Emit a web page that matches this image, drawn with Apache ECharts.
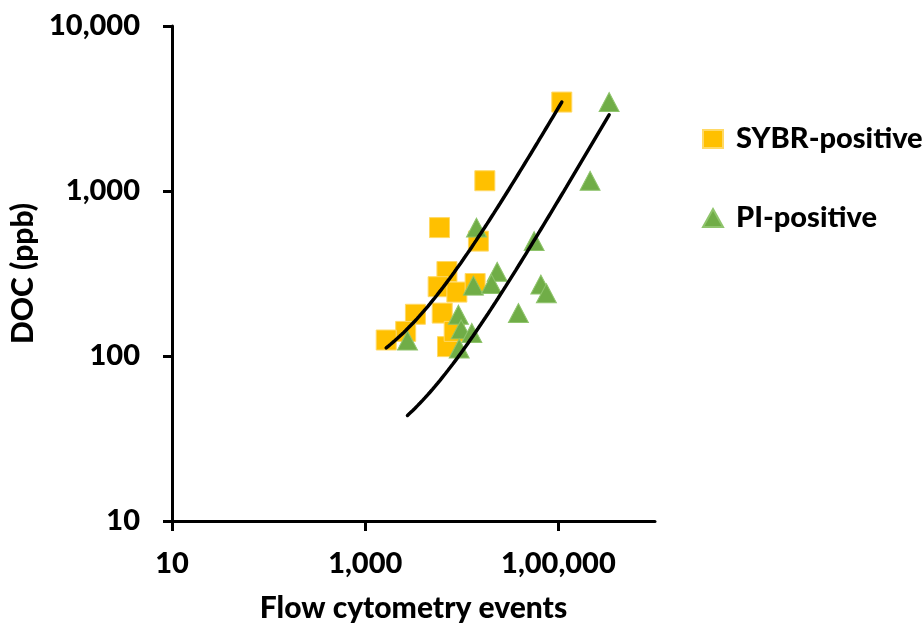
<!DOCTYPE html>
<html>
<head>
<meta charset="utf-8">
<script src="https://cdn.jsdelivr.net/npm/echarts@6/dist/echarts.min.js"></script>
<style>
html,body{margin:0;padding:0;background:#fff;}
#chart{width:924px;height:628px;}
</style>
</head>
<body>
<div id="chart"></div>
<script>
// ---- data ----
const sybrEvents = [108400, 17320, 5875, 14860, 7015, 5690, 8890, 13740, 3310, 6270, 2625, 1650, 7110, 8340];
const sybrDOC    = [3459, 1154, 600, 497, 325, 263, 244, 275, 179, 182, 141, 125, 114, 141];
const piEvents   = [335000, 212800, 14190, 56100, 23230, 13190, 20280, 65800, 75100, 38550, 9225, 9840, 12700, 2740, 9400];
const piDOC      = [3459, 1154, 600, 497, 324, 267, 273, 271, 240, 182, 178, 145, 138, 124, 111];
// linear trendlines (DOC = slope * events + intercept)
const sybrTrend = [0.03135, 60.4];
const piTrend   = [0.008588, 20.1];
const seriesNames = ['SYBR-positive', 'PI-positive'];
const xTickValues = [10, 1000, 100000];
const xTickLabels = ['10', '1,000', '1,00,000'];
const yTickValues = [10, 100, 1000, 10000];
const yTickLabels = ['10', '100', '1,000', '10,000'];

function pairs(xs, ys) { return xs.map((x, i) => [x, ys[i]]); }
function trendPoints(xs, coef) {
  const lo = Math.log10(Math.min.apply(null, xs));
  const hi = Math.log10(Math.max.apply(null, xs));
  const pts = [];
  const n = 80;
  for (let i = 0; i <= n; i++) {
    const x = Math.pow(10, lo + (hi - lo) * i / n);
    pts.push([x, coef[0] * x + coef[1]]);
  }
  return pts;
}
function labelFor(values, labels) {
  return function (v) {
    for (let i = 0; i < values.length; i++) {
      if (Math.abs(Math.log10(v) - Math.log10(values[i])) < 1e-6) return labels[i];
    }
    return '';
  };
}

const FONT = 'Lato';
const W = 900;
const chart = echarts.init(document.getElementById('chart'));
chart.setOption({
  animation: false,
  backgroundColor: '#ffffff',
  textStyle: { fontFamily: FONT },
  grid: { left: 172, right: 269, top: 26, bottom: 106, containLabel: false },
  legend: {
    data: seriesNames,
    orient: 'vertical',
    left: 697,
    top: 118,
    itemWidth: 20,
    itemHeight: 18,
    itemGap: 47,
    textStyle: { fontFamily: FONT, fontWeight: W, fontSize: 29, color: '#000', lineHeight: 32, padding: [0, 0, 0, 8] }
  },
  xAxis: {
    type: 'log',
    logBase: 10,
    min: 10,
    max: 1000000,
    name: 'Flow cytometry events',
    nameLocation: 'middle',
    nameGap: 72,
    nameTextStyle: { fontFamily: FONT, fontWeight: W, fontSize: 30, color: '#000' },
    axisLine: { show: true, onZero: false, lineStyle: { color: '#000', width: 3 } },
    axisTick: { show: true, inside: false, length: 10, lineStyle: { color: '#000', width: 3 }, customValues: xTickValues },
    axisLabel: { margin: 28, fontFamily: FONT, fontWeight: W, fontSize: 29, color: '#000', customValues: xTickValues,
                 formatter: labelFor(xTickValues, xTickLabels) },
    splitLine: { show: false },
    minorTick: { show: false }
  },
  yAxis: {
    type: 'log',
    logBase: 10,
    min: 10,
    max: 10000,
    name: 'DOC (ppb)',
    nameLocation: 'middle',
    nameGap: 127,
    nameTextStyle: { fontFamily: FONT, fontWeight: W, fontSize: 30, color: '#000' },
    axisLine: { show: true, onZero: false, lineStyle: { color: '#000', width: 3 } },
    axisTick: { show: true, inside: false, length: 9, lineStyle: { color: '#000', width: 3 } },
    axisLabel: { margin: 32, fontFamily: FONT, fontWeight: W, fontSize: 29, color: '#000',
                 formatter: labelFor(yTickValues, yTickLabels) },
    splitLine: { show: false }
  },
  series: [
    {
      name: seriesNames[0],
      type: 'scatter',
      symbol: 'rect',
      symbolSize: 20,
      z: 2,
      itemStyle: { color: '#FFC000', borderColor: '#FFD966', borderWidth: 1, opacity: 1 },
      data: pairs(sybrEvents, sybrDOC)
    },
    {
      name: seriesNames[1],
      type: 'scatter',
      symbol: 'triangle',
      symbolSize: [20, 19],
      z: 3,
      itemStyle: { color: '#70AD47', borderColor: '#8FC46C', borderWidth: 1, opacity: 1 },
      data: pairs(piEvents, piDOC)
    },
    {
      name: 'SYBR trend',
      type: 'line',
      showSymbol: false,
      symbol: 'none',
      z: 4,
      lineStyle: { color: '#000', width: 3.5, cap: 'round' },
      data: trendPoints(sybrEvents, sybrTrend)
    },
    {
      name: 'PI trend',
      type: 'line',
      showSymbol: false,
      symbol: 'none',
      z: 4,
      lineStyle: { color: '#000', width: 3.5, cap: 'round' },
      data: trendPoints(piEvents, piTrend)
    }
  ]
});
</script>
</body>
</html>
